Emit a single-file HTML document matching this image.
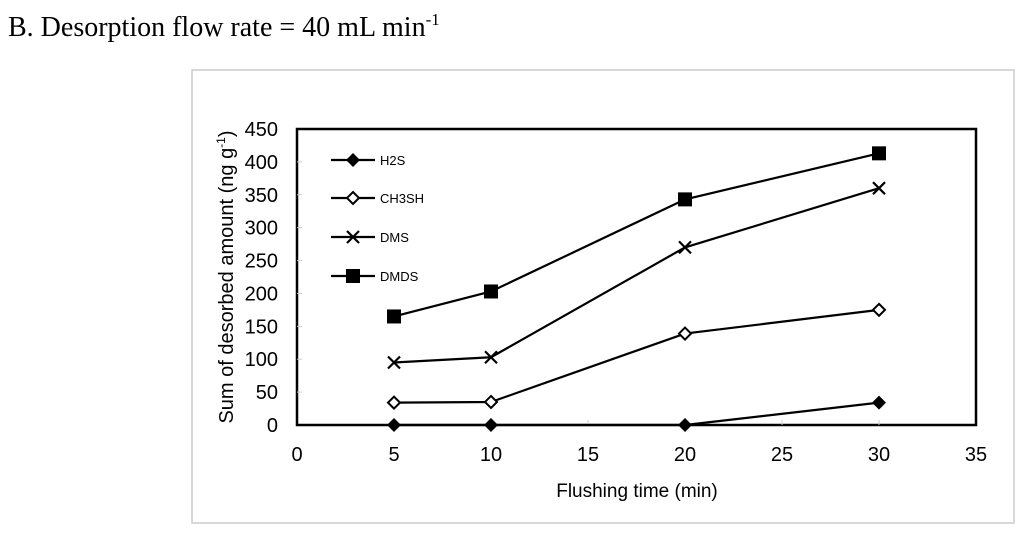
<!DOCTYPE html>
<html><head><meta charset="utf-8"><style>
body{margin:0;background:#fff;width:1024px;height:533px;overflow:hidden}
svg{display:block}
</style></head><body>
<svg id="chart" width="1024" height="533" font-family="Liberation Sans, sans-serif">
<text x="8" y="36" font-family="Liberation Serif, serif" font-size="28">B. Desorption flow rate = 40 mL min<tspan dy="-11" font-size="17">-1</tspan></text>
<rect x="192" y="70" width="822" height="453" fill="none" stroke="#ccc" stroke-width="1.5"/>
<g id="plot"></g>
<text transform="translate(233,277) rotate(-90)" text-anchor="middle" font-size="20">Sum of desorbed amount (ng g<tspan dy="-8" font-size="12">-1</tspan><tspan dy="8">)</tspan></text>
<text x="637" y="497" text-anchor="middle" font-size="19">Flushing time (min)</text>
</svg>
<script>
const xs=[5,10,20,30];
const h2s=[0,0,0,34];
const ch3sh=[34,35,139,175];
const dms=[95,103,270,360];
const dmds=[165,203,343,413];
const seriesNames=['H2S','CH3SH','DMS','DMDS'];
const xTicks=[0,5,10,15,20,25,30,35];
const yTicks=[0,50,100,150,200,250,300,350,400,450];
const NS='http://www.w3.org/2000/svg';
const X0=297,X1=976,Y0=425,Y1=129;
const xs_=v=>X0+(v-0)/35*(X1-X0);
const ys_=v=>Y0-(v/450)*(Y0-Y1);
const g=document.getElementById('plot');
function mk(t,a){const e=document.createElementNS(NS,t);for(const k in a)e.setAttribute(k,a[k]);g.appendChild(e);return e;}
const box=mk('rect',{x:X0,y:Y1,width:X1-X0,height:Y0-Y1,fill:'none',stroke:'#000','stroke-width':2.5});


yTicks.forEach(v=>{
 const t=mk('text',{x:278,y:ys_(v)+7,'text-anchor':'end','font-size':20});t.textContent=v;
 
 
 if(v>0&&v<450){mk('line',{x1:X0,x2:X0+5,y1:ys_(v),y2:ys_(v),stroke:'#ccc'});}
});
xTicks.forEach(v=>{
 const t=mk('text',{x:xs_(v),y:461,'text-anchor':'middle','font-size':20});t.textContent=v;
 
 
 if(v>0&&v<35)mk('line',{x1:xs_(v),x2:xs_(v),y1:Y0,y2:Y0-5,stroke:'#ccc'});
});
function marker(type,cx,cy){
 if(type==0)return mk('polygon',{points:`${cx},${cy-7} ${cx+7},${cy} ${cx},${cy+7} ${cx-7},${cy}`,fill:'#000'});
 if(type==1)return mk('polygon',{points:`${cx},${cy-6} ${cx+6},${cy} ${cx},${cy+6} ${cx-6},${cy}`,fill:'#fff',stroke:'#000','stroke-width':2});
 if(type==2)return mk('path',{d:`M${cx-6},${cy-6}L${cx+6},${cy+6}M${cx+6},${cy-6}L${cx-6},${cy+6}`,stroke:'#000','stroke-width':2.2});
 return mk('rect',{x:cx-7,y:cy-7,width:14,height:14,fill:'#000'});
}
[h2s,ch3sh,dms,dmds].forEach((s,i)=>{
 const p=mk('polyline',{points:s.map((v,j)=>xs_(xs[j])+','+ys_(v)).join(' '),fill:'none',stroke:'#000','stroke-width':2.2});
 
 
 s.forEach((v,j)=>{const m=marker(i,xs_(xs[j]),ys_(v));
  
  });
 const ly=[160,198,237,276][i];
 mk('line',{x1:331,x2:375,y1:ly,y2:ly,stroke:'#000','stroke-width':2.2});
 marker(i,353,ly);
 const t=mk('text',{x:380,y:ly+5,'font-size':13});t.textContent=seriesNames[i];
 
 
});
</script>
</body></html>
